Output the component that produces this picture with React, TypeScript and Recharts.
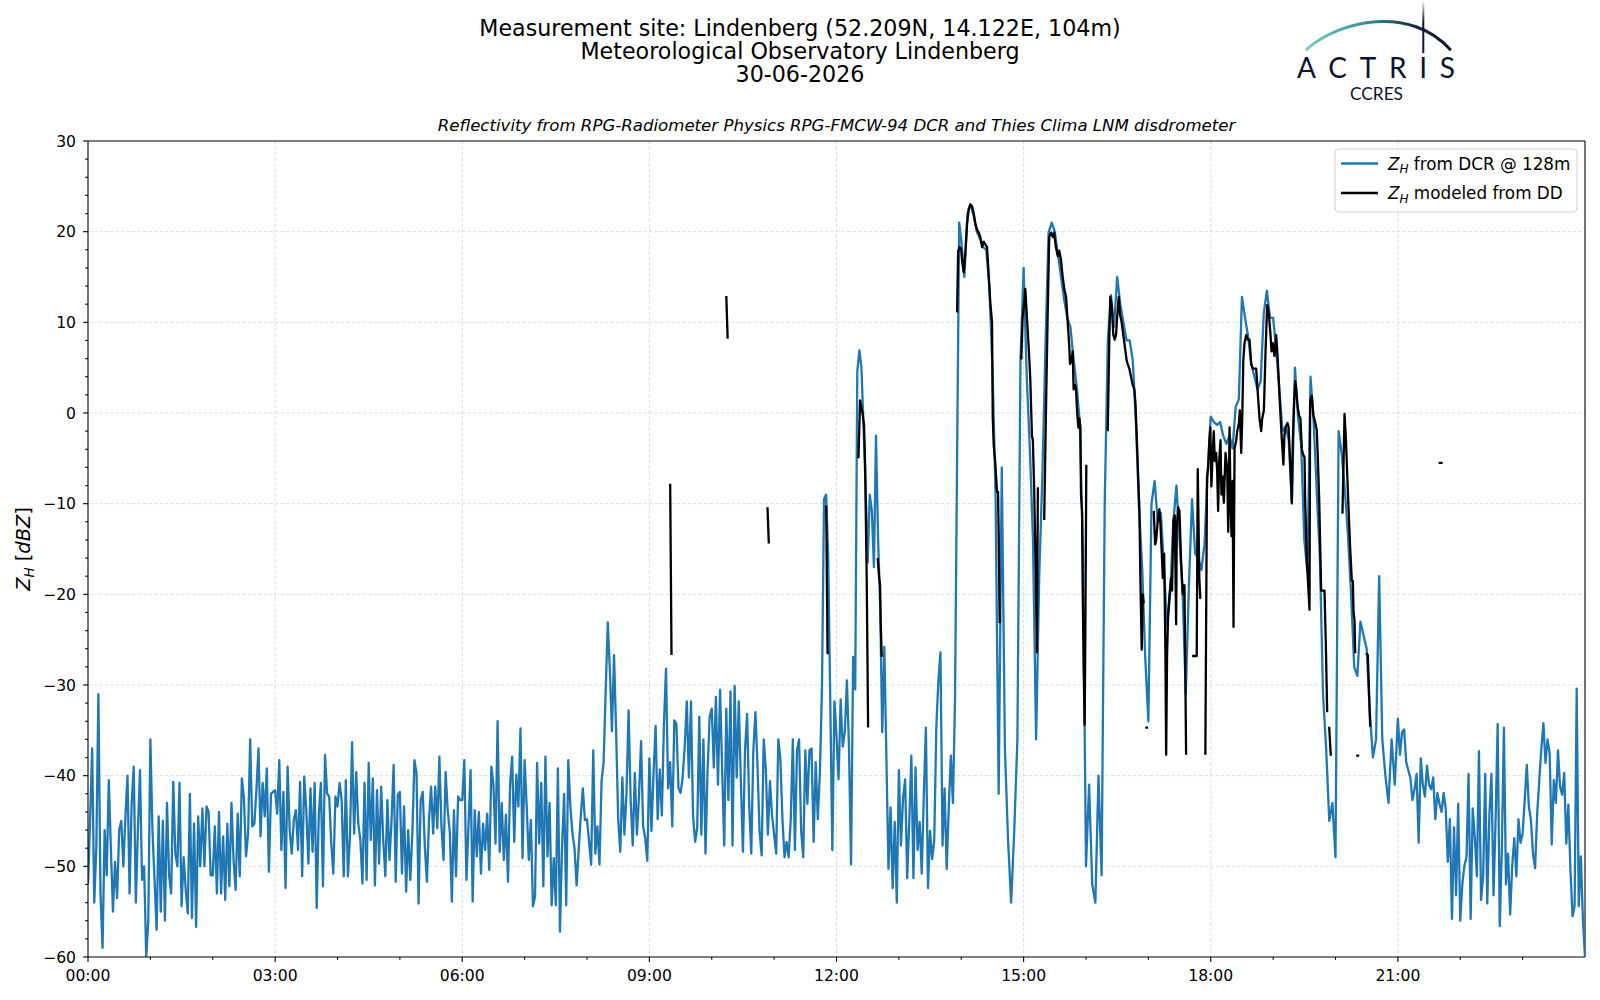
import React from "react";
import { LineChart, Line, XAxis, YAxis, CartesianGrid, ReferenceLine } from "recharts";

// DCR reflectivity at 128 m, one row per hour (dBZ), evenly spaced samples within the hour
const dcrH00 = [-52, -45, -37, -54, -48, -31, -53, -59, -46, -51, -40.5, -48, -55, -49.5, -53.5, -46, -45, -50, -44.5, -40, -53, -43, -39, -54, -46, -39.4, -51.5, -50, -60, -56];
const dcrH01 = [-36, -46, -51.5, -57, -44.5, -55, -45, -56, -43, -51, -53, -40.7, -48.6, -50, -40.8, -54.4, -49, -52.6, -55.2, -42, -55.7, -45.3, -56.7, -44.5, -50, -43.6, -50, -43.4, -44, -51];
const dcrH02 = [-51, -45.6, -53, -44, -53, -46.7, -53.7, -45.3, -52.2, -43, -49.3, -52.6, -44.2, -51.1, -40.3, -42.5, -48.9, -46.4, -36, -45.6, -45.3, -41.6, -37, -46.7, -40.8, -44.5, -39.2, -50.6, -42, -41.8];
const dcrH03 = [-41.6, -44.2, -38.3, -48.2, -41.8, -52.4, -39, -46, -48.6, -44.9, -43.8, -48.2, -40.7, -51.1, -40.1, -43.8, -49.7, -41.4, -48.4, -40.8, -54.6, -44.3, -40.8, -52.2, -37.7, -42, -42.3, -47.5, -50.8, -42.3];
const dcrH04 = [-43.4, -40.8, -42.7, -51.1, -40.5, -51.1, -46.7, -36.3, -46.4, -39.6, -45.3, -47.1, -51.9, -40.8, -51.5, -38.6, -47.1, -40.3, -52.1, -41.6, -49.7, -41.2, -47.1, -51.1, -42.7, -49.3, -44.9, -38.8, -51.7, -42.1];
const dcrH05 = [-41.8, -50.8, -43.4, -52.8, -46, -51.5, -46.4, -38.3, -39.7, -54.1, -42.7, -41.8, -47.8, -51.7, -44.9, -41.2, -46.4, -41.2, -45.8, -37.9, -45.6, -49.3, -39.6, -43.8, -46.2, -53.9, -43.8, -51.1, -42.3, -42.7];
const dcrH06 = [-42.7, -38.3, -51.5, -45.6, -39.4, -53.9, -43.8, -48.9, -44, -50.8, -45.3, -48.2, -44.2, -50.4, -39, -41, -47.5, -34, -48.4, -43, -49.3, -44.3, -51.7, -41, -37.9, -47.3, -39.9, -43.4, -34.8, -49.1];
const dcrH07 = [-38.3, -43.4, -49.3, -44.9, -54.4, -53.3, -38.6, -47.5, -40.8, -52.2, -37.9, -48.9, -43, -54.3, -49.1, -54.3, -39.2, -57.2, -47.8, -42, -54.3, -38.3, -43.4, -46.4, -48, -52.1, -48.2, -44.5, -41.4, -44.9];
const dcrH08 = [-44.8, -47.3, -49.8, -37.2, -48.6, -45.6, -49.8, -40.6, -38.5, -30.5, -23.1, -28.4, -35.1, -26.7, -35.1, -44.8, -48.4, -40.2, -46.5, -41.9, -32.8, -42.7, -47.7, -39.7, -46.5, -42.3, -36.2, -45.6, -46.9, -49.4];
const dcrH09 = [-38.1, -46.1, -39.7, -34.5, -44.8, -39.3, -44.4, -34.3, -28.2, -41.4, -38.5, -45.6, -33.9, -34.3, -41.4, -41.9, -40.2, -36.8, -31.8, -40.2, -31.8, -44.4, -47.3, -45.8, -33.5, -46.5, -36, -48.6, -39.3, -33.5];
const dcrH10 = [-32.6, -39.1, -31.3, -41, -30.5, -39.3, -47.7, -32.6, -42.7, -30.7, -47.7, -30.1, -40.2, -31.8, -40.6, -48.4, -37.2, -33.2, -43.1, -48.6, -37.2, -33, -38.9, -46.1, -48.8, -36, -39.3, -46.5, -40.6, -44.4];
const dcrH11 = [-46.5, -48.6, -36, -38.1, -44.8, -49, -47.3, -49, -44.8, -36, -48.2, -37.2, -36, -46.1, -49, -37.2, -43.1, -37.2, -37, -47.3, -38.5, -44.8, -39.7, -30.5, -9.5, -9, -15.8, -31.8, -48.2, -31.8];
const dcrH12 = [-35.7, -40.4, -31.6, -36.8, -35.2, -29.5, -36.8, -49.8, -26.9, -30.5, 4.6, 6.9, 5, -1.5, -8, -16.5, -9, -10.8, -17, -2.5, -13.9, -21.2, -35.2, -25.8, -38, -50.3, -43.5, -52.4, -45.1, -54];
const dcrH13 = [-39.4, -47.7, -42.5, -40.4, -51.3, -45.1, -37.8, -51.3, -39.1, -48.2, -45.1, -50.8, -42, -34.7, -52.4, -46.1, -49.2, -47.2, -34.7, -29.5, -26.4, -47.7, -41.4, -50.3, -43.5, -37.8, -43, -31.6, -5, 21];
const dcrH14 = [19, 15, 22, 23, 21.7, 20, 19.2, 18.3, 18, 14, 5, -9, -42, -6, -37, -47, -54, -46, -36, 6];
const dcrH15 = [16, 4, -4, -14, -36, -18, -7, 7.4, 19.9, 21, 20, 17.5, 15, 12.5, 10.5, 9.5, 6, 3, -1, -15];
const dcrH16 = [-50, -41, -52, -54, -40, -51, -10, 8, 13, 9.5, 15, 12, 10, 8, 8, 5.8, -1, -10.5, -17, -27];
const dcrH17 = [-34, -10, -7.5, -12, -11, -17, -23.5, -20, -12, -8, -14, -20, -31, -19, -9.5, -15.5, -16, -17.3, -14.5, -6.5];
const dcrH18 = [-0.4, -1, -1.3, -1, -2.5, -3.4, -2.5, -3.9, 0.7, 1.5, 12.8, 10.5, 8.4, 5.4, 4, 2.6, 3.5, 11, 13.5, 10.5];
const dcrH19 = [10.5, 7, 2.5, -2, -1.5, -3, -10, 5, -0.5, -3.5, -14, -17.5, 4, -1, -8.7, -16, -31, -37, -45, -43];
const dcrH20 = [-49, -2, -4.5, -8.5, -13.5, -20, -28, -29, -23, -24.5, -26, -33, -38, -36, -18, -36, -40, -43, -36, -41];
const dcrH21 = [-33.7, -37.7, -35.2, -34.9, -38.5, -39.4, -40.2, -42.7, -41.5, -39.8, -47.4, -38.1, -41, -42.3, -38.9, -41, -41.5, -40.2, -44.8, -41.9, -43.1, -44, -41.9, -43.6, -49.5, -44.8, -55.8, -45.7, -53.2, -43.1];
const dcrH22 = [-56, -52, -49.9, -49, -39.8, -55.8, -43.6, -46.9, -51.1, -37.3, -53.7, -51.1, -39.8, -54.1, -44.4, -39.8, -53.2, -44.8, -34.3, -56.6, -48.2, -34.7, -52, -48.6, -55.3, -49.9, -46.9, -51.1, -44.8, -47.4];
const dcrH23 = [-46.4, -42.7, -38.8, -43.4, -44.9, -48.6, -50.2, -44.2, -40.5, -37, -34.2, -38.6, -36, -37.5, -47.6, -40.5, -43, -37.2, -41.2, -42.1, -39.7, -47.5, -43.2, -50.4, -55.5, -54.4, -30.4, -54.4, -48.9, -55.9];
const dcrLast = -60; // value at 24:00

const dcrHours = [
  dcrH00, dcrH01, dcrH02, dcrH03, dcrH04, dcrH05, dcrH06, dcrH07,
  dcrH08, dcrH09, dcrH10, dcrH11, dcrH12, dcrH13, dcrH14, dcrH15,
  dcrH16, dcrH17, dcrH18, dcrH19, dcrH20, dcrH21, dcrH22, dcrH23,
];

// Z_H modeled from disdrometer: contiguous pieces of [minute of day, dBZ]
const ddSeg01 = [[560, -7.8], [561.3, -26.7]];
const ddSeg02 = [[614, 12.9], [615.3, 8.2]];
const ddSeg03 = [[653.6, -10.4], [654.9, -14.4]];
const ddSeg04 = [[710.1, -10.2], [711.4, -26.5], [712.5, -26.3]];
const ddSeg05 = [[741.1, -5], [742.7, 1.4], [743.7, 0.7], [744.9, 0.1], [746.5, -1.4], [747.5, -5.6], [749.1, -18.6], [750.4, -34.7]];
const ddSeg06 = [[759.6, -16], [760.9, -18], [761.9, -19], [762.5, -23], [763.5, -26.9]];
const ddSeg07 = [
  [836, 11.1], [837, 17.8], [838.3, 18.3], [839.9, 18.1], [840.8, 16.8], [842.4, 15.5], [844, 17.8], [845.6, 20.9],
  [847.2, 22.5], [848.8, 23], [850.4, 22.8], [852, 22], [853.6, 20.9], [855.2, 20.2], [856.8, 19.9], [858.4, 19.4],
  [860, 18.3], [861.6, 18.9], [863.2, 18.6], [864.8, 18.3], [866.4, 15.2], [868, 12.1], [869.6, 10], [870.3, -0.4],
  [871.2, -3.5], [872.8, -5.6], [874.4, -8.7], [875.4, -8.7], [876, -13.4], [877, -23.2],
];
const ddSeg08 = [
  [897.8, 5.9], [899, 10.5], [900.6, 12.1], [901.6, 13.7], [903.2, 10.5], [904.8, 7.4], [906.4, 3.8], [908, -2.5],
  [908.9, -3], [910.2, -8.7], [911.8, -18.6], [912.8, -26.4], [913.7, -8.2],
];
const ddSeg09 = [
  [919.8, -11.8], [921.4, -0.4], [923, 10], [924.6, 19.4], [926.5, 19.9], [928.1, 19.4], [929.4, 19.9], [931, 18.3],
  [932.9, 17.3], [934.3, 17.9], [935.9, 16.9], [937.5, 15.1], [939.1, 13.7], [940.8, 12.8], [942.4, 10], [944, 7.2],
  [944.6, 5.4], [946.2, 5.8], [947.2, 6.8], [948.1, 2.6], [949.4, 3.1], [950.4, 2.6], [951.4, 0.3], [952.6, -1.6],
  [953.6, -0.6], [954.6, -1.5], [955.2, -9], [956.2, -10.8], [956.8, -19.2], [957.8, -28.4], [958.7, -34.4],
  [959.4, -23.8], [960.3, -5.7],
];
const ddSeg10 = [
  [980.9, -2], [982.5, 8.6], [983.4, 12.8], [984.7, 11.9], [986.3, 8.6], [987.6, 8.1], [988.9, 8.6], [989.9, 10.5],
  [991.5, 12.8], [992.7, 10.9], [994.3, 10], [995.9, 8.6], [997.5, 7.2], [999.1, 5.8], [1000.1, 5.4], [1001.7, 4.9],
  [1003.3, 4], [1004.9, 3.1], [1006.5, 2.6], [1007.5, 1.2], [1008.8, -2.5], [1010.1, -6.7], [1011.4, -10.8],
  [1012.3, -18.2], [1013.6, -26.1], [1014.6, -20], [1015.5, -21],
];
const ddSeg11 = [[1017.1, -34.7], [1019.7, -34.7]];
const ddSeg12 = [
  [1025.2, -10.8], [1026.5, -14.5], [1027.5, -14], [1029.1, -11.8], [1030.6, -10.6], [1031.6, -12.2], [1032.9, -15.5],
  [1033.9, -18.2], [1035.2, -15.5], [1036.4, -26.6], [1037.1, -37.7], [1038, -26.6], [1039, -22.4], [1040.3, -20],
  [1041.9, -18.2], [1042.8, -19.6], [1044.1, -11.8], [1045.4, -11.3], [1046.7, -23.3], [1047.3, -12.7],
  [1048.6, -10.4], [1049.9, -10.8], [1051.5, -16.4], [1053.1, -20], [1054.7, -19], [1056.3, -37.7],
];
const ddSeg13 = [[1062.1, -26.8], [1066.5, -26.8], [1067.5, -6.2], [1069, -18.2], [1070, -20.5]];
const ddSeg14 = [
  [1074.8, -37.7], [1076.4, -7.1], [1077.4, -6.2], [1078.7, -3], [1079.6, -1.6], [1080.6, -8.1], [1081.9, -4.4],
  [1082.9, -2], [1083.9, -5.3], [1085.2, -4.4], [1086.1, -6.2], [1087.1, -10.8], [1088.1, -5.3], [1089.4, -3],
  [1090.3, -9], [1091.3, -7], [1092.6, -9.9], [1094.2, -4.4], [1095.8, -6.2], [1096.8, -13.1], [1098.1, -1.6],
  [1099, -9.9], [1100, -13.6], [1101, -7.5], [1101.9, -23.6], [1102.9, -3.9], [1104.5, -3], [1105.5, -2],
  [1107.1, -1.1], [1108, 0.3], [1109.3, -4.4], [1110.3, -0.6], [1111.3, 5.8], [1112.5, 7.7], [1114.1, 8.6],
  [1115.7, 8.1], [1117.3, 8.1], [1118.9, 5.4], [1120.5, 4.9], [1122.1, 4.9], [1123.7, 4.9], [1125.3, 2.1],
  [1126.9, -0.6], [1128.5, -2], [1129.5, -0.6], [1131.1, 0.3], [1132.7, 6.8], [1134.3, 11.9], [1135.9, 10.9],
  [1137.5, 8.6], [1138.5, 6.8], [1139.7, 7.7], [1141.3, 6.3], [1142.9, 8.6], [1143.9, 7], [1145.1, 4.4],
  [1146.7, 0.6], [1148.3, -2.8], [1149.9, -5.7], [1150.9, -2.4], [1152.2, -1.5], [1153.8, -1.1], [1154.8, -1.5],
  [1155.7, -3.6], [1157, -7], [1158, -9.9], [1158.9, -3.2], [1160.2, 1.4], [1161.2, 3.5], [1162.1, 2.7],
  [1163.7, 0.6], [1165, -0.3], [1166.3, -0.6], [1167.6, -4], [1168.6, -4.5], [1170.2, -4.9], [1170.8, -9.5],
  [1172.4, -16.2], [1174, -19.6], [1175, -21.7], [1175.6, 1.4], [1177.2, 1.9], [1178.8, -0.3], [1180.4, -1],
  [1182, -1.9], [1183, -4.9], [1184.3, -9.5], [1186.2, -19.6], [1187.5, -19.6], [1189.4, -19.6], [1190.7, -25.5],
  [1192, -33],
];
const ddSeg15 = [[1193.9, -34.6], [1195.5, -37.8]];
const ddSeg16 = [
  [1206.7, -11.1], [1208.7, -0.1], [1209.9, -2.6], [1210.9, -5.6], [1212.5, -10.4], [1214.1, -14.8],
  [1215.7, -18.5], [1216.7, -18.5], [1217.3, -21.8], [1218.3, -22.9], [1218.9, -26.5],
];
const ddSeg17 = [[1219.9, -37.8], [1222.8, -37.8]];
const ddSeg18 = [[1229.5, -26.5], [1231.1, -26.7], [1232.4, -31.3], [1233.4, -34.6]];
const ddSeg19 = [[1299.2, -5.5], [1303, -5.5]];

const ddSegments = [
  ddSeg01, ddSeg02, ddSeg03, ddSeg04, ddSeg05, ddSeg06, ddSeg07, ddSeg08, ddSeg09, ddSeg10,
  ddSeg11, ddSeg12, ddSeg13, ddSeg14, ddSeg15, ddSeg16, ddSeg17, ddSeg18, ddSeg19,
];

// axes
const timeTicks = [0, 60, 120, 180, 240, 300, 360, 420, 480, 540, 600, 660, 720, 780, 840, 900, 960, 1020, 1080, 1140, 1200, 1260, 1320, 1380];
const timeLabels = ["00:00", "03:00", "06:00", "09:00", "12:00", "15:00", "18:00", "21:00"];
const timeGrid = [180, 360, 540, 720, 900, 1080, 1260];
const levelTicks = [
  -60, -58, -56, -54, -52, -50, -48, -46, -44, -42, -40, -38, -36, -34, -32, -30, -28, -26, -24, -22, -20,
  -18, -16, -14, -12, -10, -8, -6, -4, -2, 0, 2, 4, 6, 8, 10, 12, 14, 16, 18, 20, 22, 24, 26, 28, 30,
];
const levelGrid = [-50, -40, -30, -20, -10, 0, 10, 20];

const dcrData = dcrHours
  .flatMap((row, h) => row.map((v, i) => ({ t: h * 60 + (i * 60) / row.length, v })))
  .concat([{ t: 1440, v: dcrLast }]);

const ddData = ddSegments.flatMap((seg) => [
  ...seg.map(([t, v]) => ({ t, v })),
  { t: seg[seg.length - 1][0] + 0.05, v: null },
]);

const FONT = "DejaVu Sans, sans-serif";
const BLUE = "#1f77b4";

const TimeTick = (props: any) => {
  const { x, y, payload } = props;
  const major = payload.value % 180 === 0;
  return (
    <g>
      <line x1={x} x2={x} y1={y} y2={y + (major ? 4.9 : 2.8)} stroke="#000" strokeWidth={1.1} />
      {major && (
        <text x={x} y={y + 23.5} textAnchor="middle" fontSize={15.6} fontFamily={FONT} fill="#000">
          {timeLabels[payload.value / 180]}
        </text>
      )}
    </g>
  );
};

const LevelTick = (props: any) => {
  const { x, y, payload } = props;
  const v = payload.value;
  const major = v % 10 === 0;
  return (
    <g>
      <line x1={x} x2={x - (major ? 4.9 : 2.8)} y1={y} y2={y} stroke="#000" strokeWidth={1.1} />
      {major && (
        <text x={x - 12} y={y + 5.7} textAnchor="end" fontSize={15.6} fontFamily={FONT} fill="#000">
          {v < 0 ? `\u2212${-v}` : `${v}`}
        </text>
      )}
    </g>
  );
};

const ActrisLogo = () => (
  <g>
    <defs>
      <linearGradient id="arcGrad" x1="1306" y1="0" x2="1450" y2="0" gradientUnits="userSpaceOnUse">
        <stop offset="0" stopColor="#7fd0c8" />
        <stop offset="0.45" stopColor="#2f8a94" />
        <stop offset="0.75" stopColor="#1a2a4a" />
        <stop offset="1" stopColor="#0e1233" />
      </linearGradient>
      <linearGradient id="barGrad" x1="0" y1="2" x2="0" y2="53" gradientUnits="userSpaceOnUse">
        <stop offset="0" stopColor="#0e1233" stopOpacity="0.1" />
        <stop offset="0.4" stopColor="#0e1233" />
        <stop offset="1" stopColor="#0e1233" />
      </linearGradient>
    </defs>
    <path d="M 1306.7 49.3 C 1340 20, 1410 5, 1450 49.3" fill="none" stroke="url(#arcGrad)" strokeWidth={3} strokeLinecap="round" />
    <line x1={1423.3} x2={1423.3} y1={2} y2={53} stroke="url(#barGrad)" strokeWidth={2} />
    <text x={1297} y={78.3} fontSize={28} fontFamily="Lato, DejaVu Sans, sans-serif" fill="#0e1233" textLength={158} lengthAdjust="spacing">
      ACTRIS
    </text>
    <text x={1350} y={100} fontSize={17} fontFamily="Lato, DejaVu Sans, sans-serif" fill="#0e1233" textLength={53} lengthAdjust="spacingAndGlyphs">
      CCRES
    </text>
  </g>
);

const subH = (size: number, shift: number) => (
  <tspan fontStyle="italic" fontSize={size} dy={shift}>H</tspan>
);

export default function App() {
  return (
    <div style={{ position: "relative", width: 1600, height: 1000, background: "#fff", fontFamily: FONT }}>
      <style>{`body{margin:0;background:#fff}`}</style>
      <LineChart width={1600} height={1000} margin={{ top: 141, right: 15, bottom: 0, left: 28 }}>
        <CartesianGrid
          verticalValues={timeGrid}
          horizontalValues={levelGrid}
          stroke="#d4d4d4"
          strokeWidth={0.8}
          strokeDasharray="3.5 2"
        />
        <XAxis
          type="number"
          dataKey="t"
          domain={[0, 1440]}
          allowDataOverflow
          ticks={timeTicks}
          interval={0}
          tick={<TimeTick />}
          tickLine={false}
          tickSize={0}
          tickMargin={0}
          height={43}
          axisLine={{ stroke: "#000", strokeWidth: 1.1 }}
        />
        <YAxis
          type="number"
          domain={[-60, 30]}
          allowDataOverflow
          ticks={levelTicks}
          interval={0}
          tick={<LevelTick />}
          tickLine={false}
          tickSize={0}
          tickMargin={0}
          width={60}
          axisLine={{ stroke: "#000", strokeWidth: 1.1 }}
        />
        <ReferenceLine y={30} stroke="#000" strokeWidth={1.1} />
        <ReferenceLine x={1440} stroke="#000" strokeWidth={1.1} />
        <Line
          data={dcrData}
          dataKey="v"
          type="linear"
          stroke={BLUE}
          strokeWidth={2.3}
          strokeLinejoin="round"
          dot={false}
          activeDot={false}
          isAnimationActive={false}
        />
        <Line
          data={ddData}
          dataKey="v"
          type="linear"
          stroke="#000"
          strokeWidth={2.3}
          strokeLinejoin="round"
          dot={false}
          activeDot={false}
          connectNulls={false}
          isAnimationActive={false}
        />
      </LineChart>
      <svg
        width={1600}
        height={1000}
        style={{ position: "absolute", left: 0, top: 0, pointerEvents: "none" }}
      >
        <g fontFamily={FONT} fill="#000" textAnchor="middle">
          <text x={800} y={35.7} fontSize={22.2}>Measurement site: Lindenberg (52.209N, 14.122E, 104m)</text>
          <text x={800} y={58.8} fontSize={22.2}>Meteorological Observatory Lindenberg</text>
          <text x={800} y={81.8} fontSize={22.2}>30-06-2026</text>
          <text x={836.5} y={131} fontSize={16.6} fontStyle="italic">
            Reflectivity from RPG-Radiometer Physics RPG-FMCW-94 DCR and Thies Clima LNM disdrometer
          </text>
        </g>
        <ActrisLogo />
        <text
          x={30}
          y={549}
          transform="rotate(-90 30 549)"
          textAnchor="middle"
          fontFamily={FONT}
          fontSize={19.4}
          fill="#000"
        >
          <tspan fontStyle="italic">Z</tspan>
          {subH(13.5, 4.3)}
          <tspan dy={-4.3}> [</tspan>
          <tspan fontStyle="italic">dBZ</tspan>
          <tspan>]</tspan>
        </text>
        <g fontFamily={FONT}>
          <rect x={1335} y={149} width={242} height={63} rx={4} fill="#fff" fillOpacity={0.8} stroke="#d0d0d0" strokeWidth={1} />
          <line x1={1341} x2={1378} y1={163.5} y2={163.5} stroke={BLUE} strokeWidth={2.3} />
          <line x1={1341} x2={1378} y1={193} y2={193} stroke="#000" strokeWidth={2.3} />
          <text x={1388} y={169.5} fontSize={16.8} fill="#000">
            <tspan fontStyle="italic">Z</tspan>
            {subH(12, 3.6)}
            <tspan dy={-3.6}> from DCR @ 128m</tspan>
          </text>
          <text x={1388} y={199} fontSize={16.8} fill="#000">
            <tspan fontStyle="italic">Z</tspan>
            {subH(12, 3.6)}
            <tspan dy={-3.6}> modeled from DD</tspan>
          </text>
        </g>
      </svg>
    </div>
  );
}
